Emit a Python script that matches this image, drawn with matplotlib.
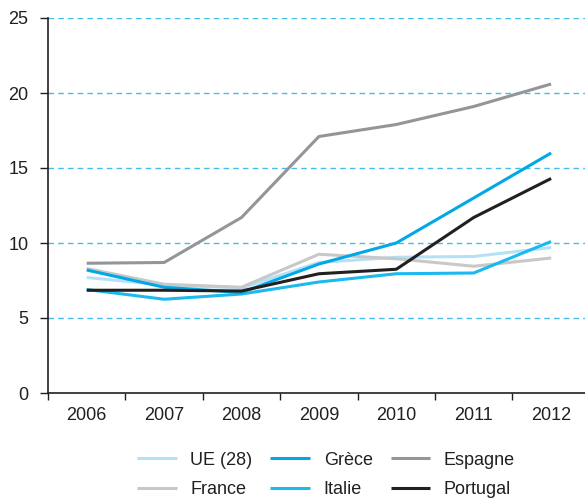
import matplotlib
matplotlib.use("Agg")
import matplotlib.pyplot as plt
from matplotlib.ticker import FixedLocator

plt.rcParams["font.family"] = ["Liberation Sans", "DejaVu Sans"]

years = ["2006", "2007", "2008", "2009", "2010", "2011", "2012"]
ue28 = [7.7, 7.2, 7.0, 8.7, 9.05, 9.1, 9.7]
grece = [8.2, 7.05, 6.7, 8.6, 10.0, 13.0, 16.0]
espagne = [8.65, 8.7, 11.7, 17.1, 17.9, 19.1, 20.6]
france = [8.3, 7.25, 7.05, 9.25, 8.95, 8.45, 9.0]
italie = [6.9, 6.25, 6.6, 7.4, 7.95, 8.0, 10.1]
portugal = [6.85, 6.85, 6.8, 7.95, 8.25, 11.7, 14.3]
yticks = [0, 5, 10, 15, 20, 25]

fig = plt.figure(figsize=(5.85, 5.03), dpi=100)
ax = fig.add_axes([48/585, 1-393/503, 1-48/585, (393-18)/503])

x = list(range(len(years)))
series = [
    ("UE (28)", ue28, "#b5e1f6", 2.2),
    ("France", france, "#c8c8c8", 2.2),
    ("Grèce", grece, "#00a8e6", 2.2),
    ("Italie", italie, "#1cb9ef", 2.2),
    ("Espagne", espagne, "#939598", 2.2),
    ("Portugal", portugal, "#231f20", 2.2),
]
order_draw = ["UE (28)", "France", "Espagne", "Italie", "Grèce", "Portugal"]
handles = {}
for name, vals, col, lw in series:
    z = 3 + order_draw.index(name)
    h, = ax.plot(x, vals, color=col, lw=lw, label=name, zorder=z, solid_capstyle="butt")
    handles[name] = h

for v in yticks[1:]:
    ax.axhline(v, color="#45bde9", lw=1.0, ls=(0, (4, 3)), zorder=1)

ax.set_xlim(-0.5, -0.5 + 537/77.4)
ax.set_ylim(0, 25)
ax.set_yticks(yticks)
ax.set_xticks(x)
ax.set_xticklabels(years)
ax.xaxis.set_minor_locator(FixedLocator([i - 0.5 for i in range(len(years) + 1)]))
ax.tick_params(axis="x", which="major", length=0, labelsize=13, pad=10, colors="#231f20")
ax.tick_params(axis="x", which="minor", length=5, width=1, direction="out", color="#231f20")
ax.tick_params(axis="y", length=6, width=1, labelsize=13, pad=8, colors="#231f20")
for s in ["top", "right"]:
    ax.spines[s].set_visible(False)
for s in ["left", "bottom"]:
    ax.spines[s].set_color("#231f20")
    ax.spines[s].set_linewidth(1.2)

leg_order = ["UE (28)", "France", "Grèce", "Italie", "Espagne", "Portugal"]
leg = fig.legend([handles[n] for n in leg_order], leg_order, ncol=3, loc="center",
           bbox_to_anchor=(326/585, 1-475/503), frameon=False, fontsize=13,
           handlelength=2.2, columnspacing=1.0, handletextpad=0.75, labelspacing=0.7)
for t in leg.get_texts():
    t.set_color("#231f20")

fig.savefig("out.png", dpi=100)
